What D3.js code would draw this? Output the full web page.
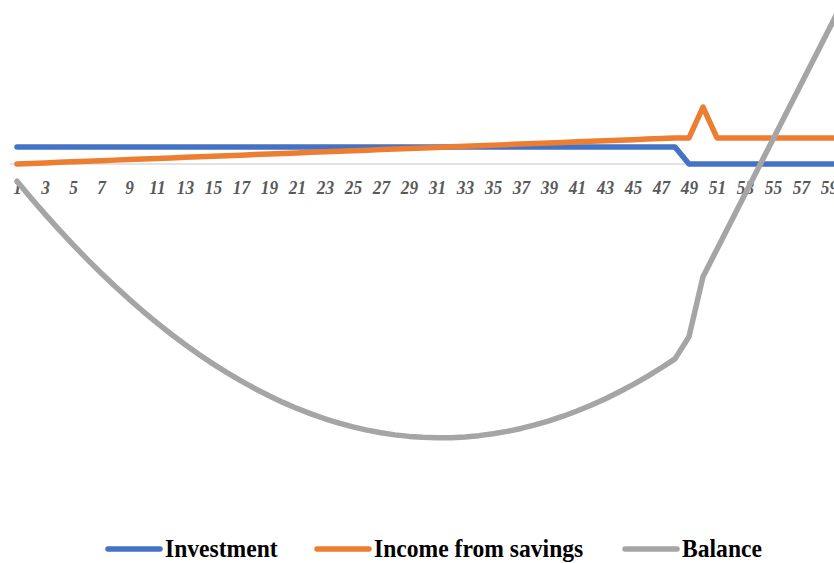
<!DOCTYPE html>
<html>
<head>
<meta charset="utf-8">
<script src="https://cdn.jsdelivr.net/npm/d3@7/dist/d3.min.js"></script>
<style>
  html, body { margin: 0; padding: 0; background: #ffffff; }
  svg { display: block; }
</style>
</head>
<body>
<div id="chart"></div>
<script>
// ---------- DATA ----------
const periods = d3.range(1, 61); // categories 1..60 (category labels)
const tickLabels = periods.filter(p => p % 2 === 1);

const investment = [
  1000,1000,1000,1000,1000,1000,1000,1000,1000,1000,
  1000,1000,1000,1000,1000,1000,1000,1000,1000,1000,
  1000,1000,1000,1000,1000,1000,1000,1000,1000,1000,
  1000,1000,1000,1000,1000,1000,1000,1000,1000,1000,
  1000,1000,1000,1000,1000,1000,1000,1000,0,0,
  0,0,0,0,0,0,0,0,0,0
];

const incomeFromSavings = [
  0,33,65,98,130,163,195,228,260,293,
  326,358,391,423,456,488,521,553,586,619,
  651,684,716,749,781,814,846,879,911,944,
  977,1009,1042,1074,1107,1139,1172,1204,1237,1270,
  1302,1335,1367,1400,1432,1465,1497,1530,1530,3350,
  1530,1530,1530,1530,1530,1530,1530,1530,1530,1530
];

const balance = [
  -1015,-1997,-2946,-3861,-4744,-5594,-6411,-7194,-7945,-8663,
  -9347,-9999,-10618,-11203,-11756,-12276,-12762,-13215,-13635,-14023,
  -14377,-14699,-14987,-15243,-15465,-15654,-15810,-15933,-16023,-16080,
  -16105,-16096,-16054,-15979,-15871,-15730,-15556,-15350,-15110,-14836,
  -14530,-14191,-13819,-13413,-12975,-12504,-12000,-11462,-10160,-6630,
  -5010,-3390,-1780,-160,1460,3080,4690,6310,7930,9550
];

const seriesNames = ["Investment", "Income from savings", "Balance"];
const seriesColors = ["#4472C4", "#ED7D31", "#A5A5A5"];
const seriesValues = [investment, incomeFromSavings, balance];

// ---------- LAYOUT ----------
const W = 834, H = 563;
const svg = d3.select("#chart").append("svg")
  .attr("width", W).attr("height", H);

const x = d3.scalePoint().domain(periods).range([17, 843]);
const y = d3.scaleLinear().domain([-20000, 10000]).range([504, -6]);

// category axis line at zero
svg.append("line")
  .attr("x1", 10).attr("x2", W)
  .attr("y1", y(0)).attr("y2", y(0))
  .attr("stroke", "#D9D9D9").attr("stroke-width", 1.5);

// tick labels
const axis = d3.axisBottom(x).tickValues(tickLabels).tickSize(0).tickPadding(0);
const gAxis = svg.append("g")
  .attr("transform", `translate(0,${y(0)})`)
  .call(axis);
gAxis.select(".domain").remove();
gAxis.selectAll("text")
  .attr("y", 0)
  .attr("dy", 0)
  .attr("transform", "translate(0,29.5) scale(1,1.12)")
  .attr("fill", "#595959")
  .style("font-family", "'Liberation Serif', 'Times New Roman', serif")
  .style("font-weight", "bold")
  .style("font-style", "italic")
  .style("font-size", "17.3px");

// lines
const line = d3.line()
  .x((d, i) => x(periods[i]))
  .y(d => y(d));

const gLines = svg.append("g");
seriesValues.forEach((vals, si) => {
  gLines.append("path")
    .datum(vals)
    .attr("d", line)
    .attr("fill", "none")
    .attr("stroke", seriesColors[si])
    .attr("stroke-width", 5.5)
    .attr("stroke-linejoin", "round")
    .attr("stroke-linecap", "round");
});

// legend
const legendItems = [
  { name: seriesNames[0], color: seriesColors[0], x0: 106 },
  { name: seriesNames[1], color: seriesColors[1], x0: 315 },
  { name: seriesNames[2], color: seriesColors[2], x0: 623 }
];
const gLeg = svg.append("g");
legendItems.forEach(it => {
  gLeg.append("line")
    .attr("x1", it.x0 + 2).attr("x2", it.x0 + 54)
    .attr("y1", 549).attr("y2", 549)
    .attr("stroke", it.color).attr("stroke-width", 5.5)
    .attr("stroke-linecap", "round");
  gLeg.append("text")
    .attr("transform", `translate(${it.x0 + 59},557) scale(1,1.1)`)
    .attr("fill", "#000000")
    .style("font-family", "'Liberation Serif', 'Times New Roman', serif")
    .style("font-weight", "bold")
    .style("font-size", "23.6px")
    .text(it.name);
});
</script>
</body>
</html>
